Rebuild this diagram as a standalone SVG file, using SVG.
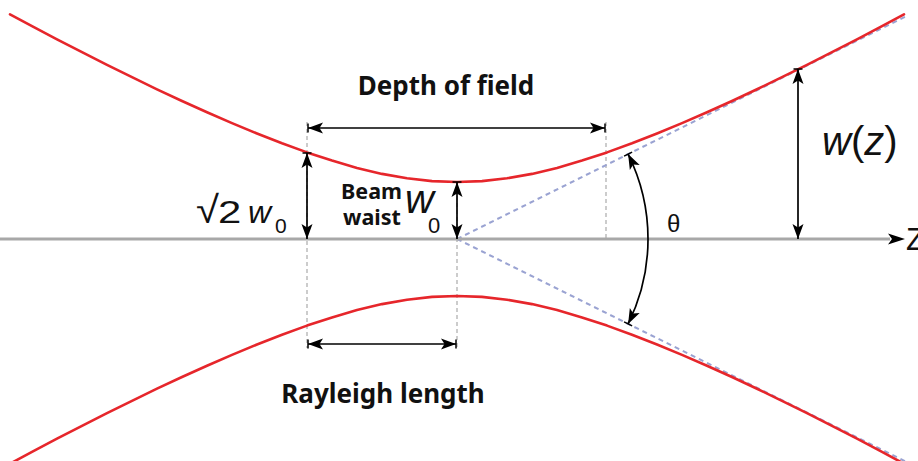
<svg xmlns="http://www.w3.org/2000/svg" width="918" height="461" viewBox="0 0 918 461">
<style>
.beam{fill:none;stroke:#e6262b;stroke-width:2.6;stroke-linejoin:round;stroke-linecap:round}
.asym{fill:none;stroke:#9aa3d2;stroke-width:2;stroke-dasharray:5 4}
.guide{fill:none;stroke:#999;stroke-width:1;stroke-dasharray:4 3}
.axis{fill:none;stroke:#a8a8a8;stroke-width:3}
.dim{fill:none;stroke:#000;stroke-width:1.7}
.lbl{font-family:"Noto Sans","Liberation Sans",sans-serif;font-weight:bold;fill:#111}
.math{font-family:"Liberation Sans",Arial,sans-serif;fill:#111}
.it{font-style:italic}
</style>
<defs>
<marker id="ah" viewBox="-16 -7 18 14" markerWidth="18" markerHeight="14" refX="0" refY="0" orient="auto-start-reverse" markerUnits="userSpaceOnUse" overflow="visible">
<path d="M0,0 L-15,-5.5 L-11.5,0 L-15,5.5 Z" fill="#000"/>
</marker>
<marker id="aht" viewBox="-16 -7 18 14" markerWidth="18" markerHeight="14" refX="0" refY="0" orient="auto-start-reverse" markerUnits="userSpaceOnUse" overflow="visible">
<path d="M0,0 L-15,-5.5 L-11.5,0 L-15,5.5 Z" fill="#000"/>
<path d="M0,-4.5 V4.5" stroke="#000" stroke-width="1.5"/>
</marker>
</defs>

<g id="guides">
<path class="guide" d="M307,122 V348"/>
<path class="guide" d="M457,182 V348"/>
<path class="guide" d="M606,122 V239"/>
</g>

<g id="asymptotes">
<path class="asym" d="M457,239 L908,15.3"/>
<path class="asym" d="M457,239 L908,462.7"/>
</g>

<g id="z-axis">
<path class="axis" d="M0,239 H890"/>
<path d="M905,239 L888,233.5 L892,239 L888,244.5 Z" fill="#000"/>
<text class="math" x="906" y="250" font-size="31">Z</text>
</g>

<g id="beam-upper">
<path class="beam" d="M10,14.3 L32,26.1 L57,39.3 L82,52.2 L107,64.9 L132,77.2 L157,89.3 L182,101 L207,112.3 L232,123.1 L257,133.5 L282,143.3 L307,152.4 L332,160.6 L357,167.9 L382,173.9 L407,178.3 L432,181.1 L457,182 L482,181.1 L507,178.3 L532,173.9 L557,167.9 L582,160.6 L607,152.4 L632,143.3 L657,133.5 L682,123.1 L707,112.3 L732,101 L757,89.3 L782,77.2 L807,64.9 L832,52.2 L857,39.3 L882,26.1 L904,14.3"/>
</g>
<g id="beam-lower">
<path class="beam" d="M10,463.7 L32,451.9 L57,438.7 L82,425.8 L107,413.1 L132,400.8 L157,388.7 L182,377 L207,365.7 L232,354.9 L257,344.5 L282,334.7 L307,325.6 L332,317.4 L357,310.1 L382,304.1 L407,299.7 L432,296.9 L457,296 L482,296.9 L507,299.7 L532,304.1 L557,310.1 L582,317.4 L607,325.6 L632,334.7 L657,344.5 L682,354.9 L707,365.7 L732,377 L757,388.7 L782,400.8 L807,413.1 L832,425.8 L857,438.7 L882,451.9 L904,463.7"/>
</g>

<g id="connectors">
<path class="dim" d="M308,128 H605" marker-start="url(#aht)" marker-end="url(#aht)"/>
<path class="dim" d="M308,344 H456" marker-start="url(#aht)" marker-end="url(#aht)"/>
<path class="dim" d="M307,153 V239" marker-start="url(#aht)" marker-end="url(#ah)"/>
<path class="dim" d="M457,182 V239" marker-start="url(#aht)" marker-end="url(#ah)"/>
<path class="dim" d="M798,69 V239" marker-start="url(#aht)" marker-end="url(#ah)"/>
<path class="dim" d="M628.1,154.1 A191,191 0 0 1 628.1,323.9" marker-start="url(#aht)" marker-end="url(#aht)"/>
</g>

<g id="depth-of-field">
<text class="lbl" x="446" y="95" font-size="26" text-anchor="middle">Depth of field</text>
</g>
<g id="rayleigh-length">
<text class="lbl" x="383" y="403" font-size="26" text-anchor="middle">Rayleigh length</text>
</g>
<g id="beam-waist">
<text class="lbl" x="341" y="199" font-size="21.5">Beam</text>
<text class="lbl" x="343" y="225" font-size="21.5">waist</text>
<text class="math it" x="405" y="213" font-size="40">w</text>
<text class="math" x="428" y="233" font-size="22">0</text>
</g>
<g id="sqrt2-w0">
<text class="math" transform="translate(196,223) scale(1.1,1)" font-size="38">√</text>
<text class="math" transform="translate(218,223) scale(1.35,1)" font-size="31">2</text>
<text class="math it" x="248" y="223" font-size="32">w</text>
<text class="math" x="275" y="233" font-size="21">0</text>
</g>
<g id="wz">
<text class="math" x="822" y="155" font-size="40"><tspan class="it">w</tspan>(<tspan class="it">z</tspan>)</text>
</g>
<g id="theta">
<text class="math" x="667" y="232" font-size="24">θ</text>
</g>
</svg>
